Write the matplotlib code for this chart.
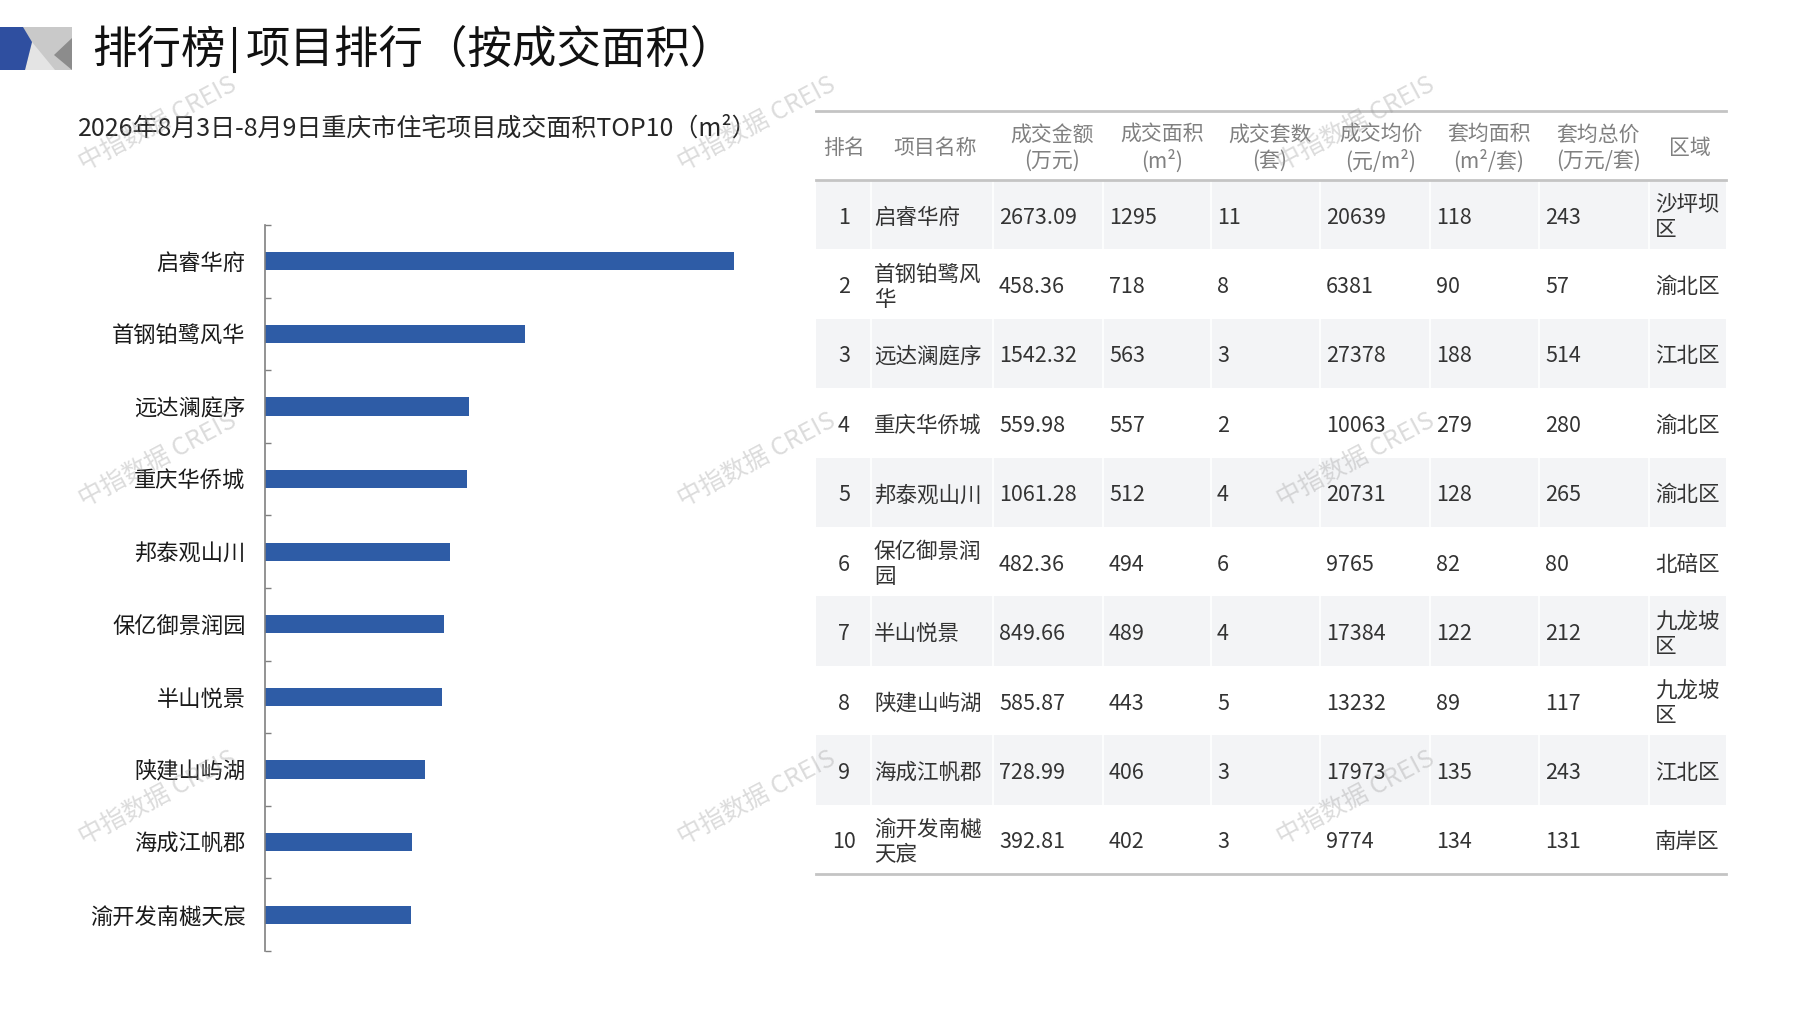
import matplotlib
matplotlib.use('Agg')
import matplotlib.pyplot as plt
from matplotlib.patches import Polygon, Rectangle

plt.rcParams['font.family'] = ['Noto Sans CJK SC', 'DejaVu Sans']

W, H = 1797, 1010

# 数据
projects = ['启睿华府', '首钢铂鹭风华', '远达澜庭序', '重庆华侨城', '邦泰观山川',
            '保亿御景润园', '半山悦景', '陕建山屿湖', '海成江帆郡', '渝开发南樾天宸']
area = [1295, 718, 563, 557, 512, 494, 489, 443, 406, 402]
amount = ['2673.09', '458.36', '1542.32', '559.98', '1061.28',
          '482.36', '849.66', '585.87', '728.99', '392.81']
units = [11, 8, 3, 2, 4, 6, 4, 5, 3, 3]
avg_price = [20639, 6381, 27378, 10063, 20731, 9765, 17384, 13232, 17973, 9774]
avg_area = [118, 90, 188, 279, 128, 82, 122, 89, 135, 134]
avg_total = [243, 57, 514, 280, 265, 80, 212, 117, 243, 131]
districts = ['沙坪坝区', '渝北区', '江北区', '渝北区', '渝北区',
             '北碚区', '九龙坡区', '九龙坡区', '江北区', '南岸区']
headers = ['排名', '项目名称', '成交金额\n(万元)', '成交面积\n(m²)', '成交套数\n(套)',
           '成交均价\n(元/m²)', '套均面积\n(m²/套)', '套均总价\n(万元/套)', '区域']

title_left = '排行榜'
title_right = '项目排行（按成交面积）'
subtitle = '2026年8月3日-8月9日重庆市住宅项目成交面积TOP10（m²）'
watermark = '中指数据 CREIS'

bar_color = '#2E5CA6'


def wrap(s, n):
    return '\n'.join(s[i:i + n] for i in range(0, len(s), n))


fig = plt.figure(figsize=(W / 100, H / 100), dpi=100)

# 背景层，像素坐标
bg = fig.add_axes([0, 0, 1, 1])
bg.set_xlim(0, W)
bg.set_ylim(H, 0)
bg.axis('off')

# 左上角图标
bg.add_patch(Rectangle((23, 27), 49, 43, color='#c9c9c9', lw=0))
bg.add_patch(Polygon([(25, 70), (32, 42), (55, 70)], closed=True, color='#e4e4e4', lw=0))
bg.add_patch(Polygon([(54, 55), (72, 38), (72, 70)], closed=True, color='#8c8c8c', lw=0))
bg.add_patch(Polygon([(0, 27), (23, 27), (32, 42), (25, 70), (0, 70)], closed=True,
                     color='#2F4FA0', lw=0))

# 标题
bg.text(92, 50, title_left, fontsize=32, va='center', ha='left', color='#111111')
bg.plot([234, 234], [28, 71], color='#111111', lw=2.2)
bg.text(246, 50, title_right, fontsize=32, va='center', ha='left', color='#111111')
bg.text(78, 129, subtitle, fontsize=18, va='center', ha='left', color='#262626')

# 表格
bounds = [816, 871, 993, 1103, 1211, 1320, 1430, 1539, 1649, 1726]
head_x = [844, 935, 1052, 1162, 1270, 1381, 1489, 1598, 1690]
top_y, head_y, row_h = 111, 180, 69.4

for i in range(len(projects)):
    y0 = head_y + i * row_h
    if i % 2 == 0:
        bg.add_patch(Rectangle((bounds[0], y0), bounds[-1] - bounds[0], row_h,
                               color='#f3f4f6', lw=0))
        for b in bounds[1:-1]:
            bg.plot([b, b], [y0, y0 + row_h], color='white', lw=1.2)
bg.plot([bounds[0], bounds[-1]], [top_y, top_y], color='#c4c4c4', lw=2)
bg.plot([bounds[0], bounds[-1]], [head_y, head_y], color='#c4c4c4', lw=2)
bg.plot([bounds[0], bounds[-1]], [head_y + 10 * row_h] * 2, color='#c4c4c4', lw=2)

for hx, h in zip(head_x, headers):
    bg.text(hx, (top_y + head_y) / 2 + 2, h, fontsize=15, ha='center', va='center',
            color='#808080', linespacing=1.25)

for i in range(len(projects)):
    yc = head_y + (i + 0.5) * row_h + 3
    row = [wrap(projects[i], 5), amount[i], str(area[i]), str(units[i]), str(avg_price[i]),
           str(avg_area[i]), str(avg_total[i]), wrap(districts[i], 3)]
    bg.text(844, yc, str(i + 1), fontsize=15.5, ha='center', va='center', color='#333333')
    for j, v in enumerate(row):
        x = bounds[j + 1] + (3 if j == 0 else 6)
        bg.text(x, yc, v, fontsize=15.5, ha='left', va='center', color='#333333',
                linespacing=1.2)

# 条形图
ax = fig.add_axes([265 / W, 1 - 951 / H, 525 / W, 726 / H])
ypos = list(range(len(projects)))
ax.barh(ypos, area, height=0.25, color=bar_color)
ax.set_ylim(len(projects) - 0.5, -0.5)
ax.set_xlim(0, 1450)
ax.set_yticks(ypos)
ax.set_yticklabels(projects, fontsize=16, color='#1a1a1a')
ax.set_yticks([k - 0.5 for k in range(len(projects) + 1)], minor=True)
ax.tick_params(axis='y', which='major', length=0, pad=14)
ax.tick_params(axis='y', which='minor', direction='in', length=4, color='#808080', width=1)
ax.set_xticks([])
for s in ['top', 'right', 'bottom']:
    ax.spines[s].set_visible(False)
ax.spines['left'].set_color('#808080')
ax.spines['left'].set_linewidth(1.2)
ax.patch.set_alpha(0)

# 水印
ov = fig.add_axes([0, 0, 1, 1], zorder=10)
ov.set_xlim(0, W)
ov.set_ylim(H, 0)
ov.axis('off')
for wy in [124, 460, 798]:
    for wx in [158, 757, 1356]:
        ov.text(wx, wy, watermark, fontsize=18, rotation=28, ha='center', va='center',
                color='#9a9a9a', alpha=0.35, rotation_mode='anchor')

fig.savefig('out.png', dpi=100)
